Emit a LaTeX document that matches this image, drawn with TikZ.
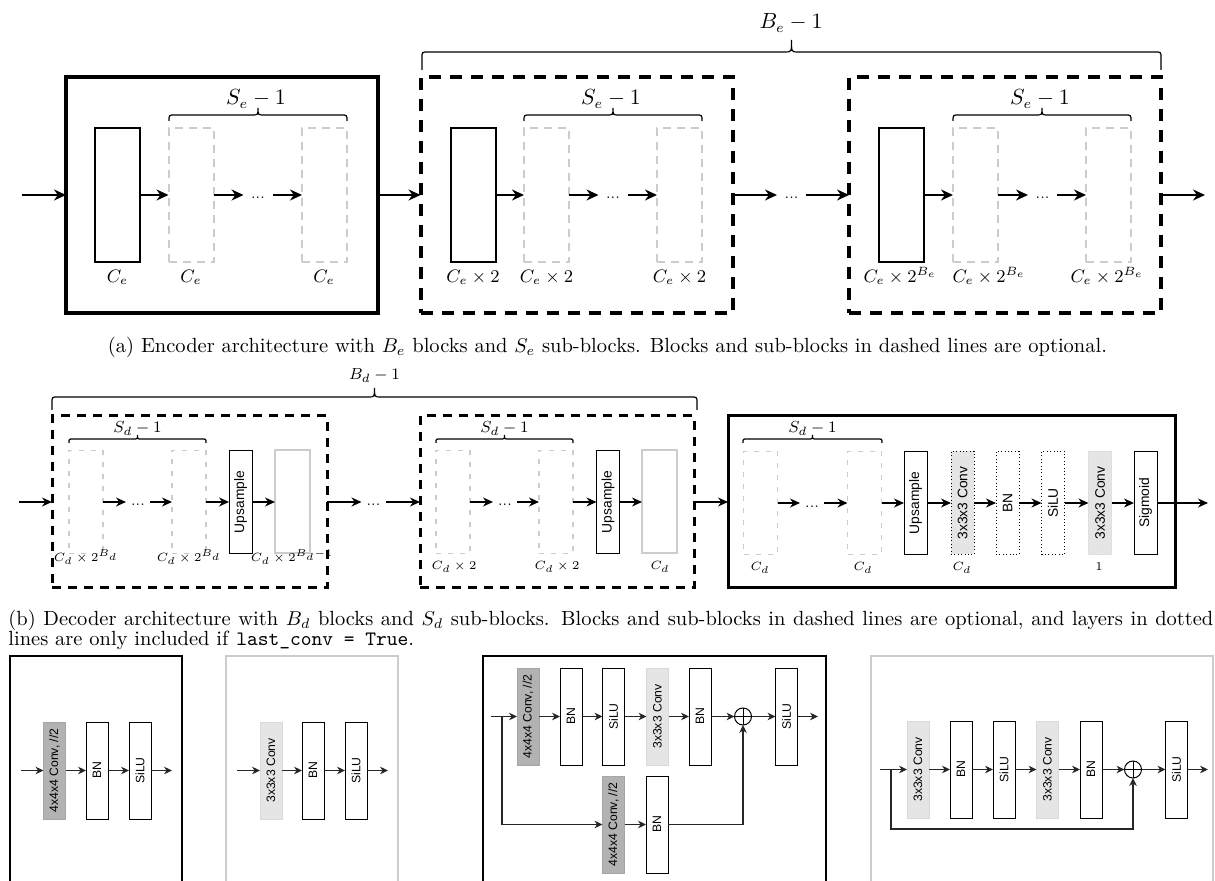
\documentclass[tikz,border=0pt]{standalone}
\usepackage{fontspec}
\newfontfamily\sfa{Liberation Sans}
\usetikzlibrary{arrows.meta}
\newcommand{\hbr}[7]{% style, x1,x2,yend,yflat,ytip,r
\draw[#1] (#2,#4) -- (#2,#5+#7) .. controls (#2,#5) .. (#2+#7,#5) -- ({(#2+#3)/2-#7},#5) .. controls ({(#2+#3)/2},#5) .. ({(#2+#3)/2},#6) .. controls ({(#2+#3)/2},#5) .. ({(#2+#3)/2+#7},#5) -- (#3-#7,#5) .. controls (#3,#5) .. (#3,#5+#7) -- (#3,#4);}
\newcommand{\dd}{\smash{\raisebox{-2pt}{...}}}
\tikzset{
 earr/.style={-{Stealth[length=6pt,width=5.5pt]},line width=0.8pt},
 darr/.style={-{Stealth[length=5pt,width=4.5pt]},line width=0.7pt},
 barr/.style={-{Stealth[length=4pt,width=3.8pt]},line width=0.55pt,draw=black!85},
 bx/.style={rectangle,inner sep=0pt,outer sep=0pt},
 eblk/.style={bx,draw,line width=2pt,minimum width=156pt,minimum height=118pt},
 eblkd/.style={eblk,dash pattern=on 6pt off 4.5pt},
 econv/.style={bx,draw,line width=1pt,minimum width=22.5pt,minimum height=67pt},
 eopt/.style={econv,draw=gray!40,dash pattern=on 4pt off 3pt},
 edots/.style={bx,minimum width=14.5pt,font=\scriptsize},
 elab/.style={anchor=base,inner sep=0pt,font=\fontsize{8.7}{10}\selectfont},
 eslab/.style={anchor=base,inner sep=0pt,font=\fontsize{10.5}{12}\selectfont},
 eblab/.style={anchor=base,inner sep=0pt,font=\fontsize{10.5}{12}\selectfont},
 ebrace/.style={line width=0.6pt},
 dblk/.style={bx,draw,line width=1.5pt,minimum height=86pt},
 dblkd/.style={dblk,dash pattern=on 4.5pt off 3.5pt},
 dopt/.style={bx,draw=gray!40,line width=0.6pt,dash pattern=on 2.5pt off 3.5pt,minimum width=17pt,minimum height=51.5pt},
 dlg/.style={bx,draw=gray!40,line width=1pt,minimum width=17.5pt,minimum height=51.5pt},
 dcomp/.style={bx,draw,line width=0.5pt,minimum width=11.5pt,minimum height=51.5pt,font=\sfa\fontsize{6.9}{8}\selectfont},
 ddot/.style={dcomp,dash pattern=on 0.5pt off 1.2pt},
 dlight/.style={fill=gray!20,draw=gray!25},
 ddots/.style={bx,minimum width=12pt,font=\scriptsize},
 dlab/.style={anchor=base,inner sep=0pt,font=\fontsize{6.3}{7}\selectfont},
 dslab/.style={anchor=base,inner sep=0pt,font=\fontsize{8.3}{10}\selectfont},
 dblab/.style={anchor=base,inner sep=0pt,font=\fontsize{8.3}{10}\selectfont},
 bblk/.style={bx,draw,line width=1.2pt,minimum height=125pt},
 bblkg/.style={bx,draw=gray!40,line width=1pt,minimum height=125pt},
 bcomp/.style={bx,draw,line width=0.5pt,minimum width=11pt,minimum height=48.5pt,font=\sfa\fontsize{6.1}{7}\selectfont},
 bdark/.style={fill=gray!60,draw=gray!70},
 blight/.style={fill=gray!20,draw=gray!30},
 opl/.style={circle,draw,line width=0.5pt,minimum size=8.5pt,inner sep=0pt,outer sep=0pt,
   path picture={\draw[line width=0.5pt] (path picture bounding box.north) -- (path picture bounding box.south) (path picture bounding box.west) -- (path picture bounding box.east);}},
 captxt/.style={inner sep=0pt,font=\fontsize{10.25}{12}\selectfont},
}
\begin{document}
\begin{tikzpicture}[x=0.5pt,y=-0.5pt]
\clip (0,0) rectangle (1215,881);
%================ ENCODER
\node[eblk]  (E1) at (222,195) {};
\node[eblkd] (E2) at (576.5,195) {};
\node[eblkd] (E3) at (1005,195) {};
% block 1
\node[econv] (E1a) at (117.5,195) {};
\node[eopt]  (E1b) at (191,195) {};
\node[edots] (E1d) at (258,195) {\dd};
\node[eopt]  (E1c) at (324.5,195) {};
% block 2
\node[econv] (E2a) at (473,195) {};
\node[eopt]  (E2b) at (546.5,195) {};
\node[edots] (E2d) at (613,195) {\dd};
\node[eopt]  (E2c) at (679.5,195) {};
% block 3
\node[econv] (E3a) at (901.5,195) {};
\node[eopt]  (E3b) at (975.5,195) {};
\node[edots] (E3d) at (1042.5,195) {\dd};
\node[eopt]  (E3c) at (1108.5,195) {};
\node[edots] (Ed) at (791.5,195) {\dd};
\coordinate (Ein) at (22,195);
\coordinate (Eout) at (1205,195);
\draw[earr] (Ein) -- (E1.west);
\draw[earr] (E1a.east) -- (E1b.west);
\draw[earr] (E1b.east) -- (E1d.west);
\draw[earr] (E1d.east) -- (E1c.west);
\draw[earr] (E1.east) -- (E2.west);
\draw[earr] (E2a.east) -- (E2b.west);
\draw[earr] (E2b.east) -- (E2d.west);
\draw[earr] (E2d.east) -- (E2c.west);
\draw[earr] (E2.east) -- (Ed.west);
\draw[earr] (Ed.east) -- (E3.west);
\draw[earr] (E3a.east) -- (E3b.west);
\draw[earr] (E3b.east) -- (E3d.west);
\draw[earr] (E3d.east) -- (E3c.west);
\draw[earr] (E3.east) -- (Eout);
% labels
\node[elab] (LE1a) at (117.5,283) {$C_e$};
\node[elab] (LE1b) at (191,283) {$C_e$};
\node[elab] (LE1c) at (324,283) {$C_e$};
\node[elab] (LE2a) at (473,283) {$C_e\times 2$};
\node[elab] (LE2b) at (546.5,283) {$C_e\times 2$};
\node[elab] (LE2c) at (679.5,283) {$C_e\times 2$};
\node[elab] (LE3a) at (900,283) {$C_e\times 2^{B_e}$};
\node[elab] (LE3b) at (989,283) {$C_e\times 2^{B_e}$};
\node[elab] (LE3c) at (1107,283) {$C_e\times 2^{B_e}$};
% braces
\hbr{ebrace}{169}{347}{121}{115}{108}{6}
\hbr{ebrace}{524}{702}{121}{115}{108}{6}
\hbr{ebrace}{953}{1131}{121}{115}{108}{6}
\node[eslab] (SE1) at (256,105) {$S_e-1$};
\node[eslab] (SE2) at (611,105) {$S_e-1$};
\node[eslab] (SE3) at (1040,105) {$S_e-1$};
\hbr{ebrace}{422}{1161}{70}{52}{40}{6}
\node[eblab] (BE) at (791,29) {$B_e-1$};
\node[captxt,anchor=base] (capA) at (607.5,353) {(a) Encoder architecture with $B_e$ blocks and $S_e$ sub-blocks. Blocks and sub-blocks in dashed lines are optional.};
%================ DECODER
\node[dblkd,minimum width=137.5pt] (D1) at (189.5,502) {};
\node[dblkd,minimum width=137pt]   (D2) at (557,502) {};
\node[dblk,minimum width=223.5pt]  (D3) at (951.5,502) {};
% block 1
\node[dopt]  (D1a) at (86,502) {};
\node[ddots] (D1d) at (138,502) {\dd};
\node[dopt]  (D1b) at (189,502) {};
\node[dcomp] (D1u) at (240.5,502) {\rotatebox{90}{Upsample}};
\node[dlg]   (D1g) at (292.5,502) {};
% block 2
\node[dopt]  (D2a) at (453,502) {};
\node[ddots] (D2d) at (505,502) {\dd};
\node[dopt]  (D2b) at (556,502) {};
\node[dcomp] (D2u) at (608,502) {\rotatebox{90}{Upsample}};
\node[dlg]   (D2g) at (659.5,502) {};
% block 3
\node[dopt]  (D3a) at (760.5,503) {};
\node[ddots] (D3d) at (812,503) {\dd};
\node[dopt]  (D3b) at (864.5,503) {};
\node[dcomp] (D3u) at (915.5,503) {\rotatebox{90}{Upsample}};
\node[ddot,fill=gray!20] (D3c1) at (962.5,503) {\rotatebox{90}{3x3x3 Conv}};
\node[ddot]  (D3bn) at (1007.5,503) {\rotatebox{90}{BN}};
\node[ddot]  (D3si) at (1053,503) {\rotatebox{90}{SiLU}};
\node[dcomp,dlight] (D3c2) at (1100,503) {\rotatebox{90}{3x3x3 Conv}};
\node[dcomp] (D3sg) at (1145.5,503) {\rotatebox{90}{Sigmoid}};
\node[ddots] (Dd) at (373.5,502) {\dd};
\coordinate (Din) at (19,502);
\coordinate (Dout) at (1208,503);
\draw[darr] (Din) -- (D1.west);
\draw[darr] (D1a.east) -- (D1d.west);
\draw[darr] (D1d.east) -- (D1b.west);
\draw[darr] (D1b.east) -- (D1u.west);
\draw[darr] (D1u.east) -- (D1g.west);
\draw[darr] (D1.east) -- (Dd.west);
\draw[darr] (Dd.east) -- (D2.west);
\draw[darr] (D2a.east) -- (D2d.west);
\draw[darr] (D2d.east) -- (D2b.west);
\draw[darr] (D2b.east) -- (D2u.west);
\draw[darr] (D2u.east) -- (D2g.west);
\draw[darr] (D2.east) -- (D3.west);
\draw[darr] (D3a.east) -- (D3d.west);
\draw[darr] (D3d.east) -- (D3b.west);
\draw[darr] (D3b.east) -- (D3u.west);
\draw[darr] (D3u.east) -- (D3c1.west);
\draw[darr] (D3c1.east) -- (D3bn.west);
\draw[darr] (D3bn.east) -- (D3si.west);
\draw[darr] (D3si.east) -- (D3c2.west);
\draw[darr] (D3c2.east) -- (D3sg.west);
\draw[darr] (D3sg.east) -- (Dout);
% labels
\node[dlab] (LD1a) at (86,562) {$C_d\times 2^{B_d}$};
\node[dlab] (LD1b) at (189,562) {$C_d\times 2^{B_d}$};
\node[dlab] (LD1g) at (292,562) {$C_d\times 2^{B_d-1}$};
\node[dlab] (LD2a) at (454,570) {$C_d\times 2$};
\node[dlab] (LD2b) at (557,570) {$C_d\times 2$};
\node[dlab] (LD2g) at (660,570) {$C_d$};
\node[dlab] (LD3a) at (760,571) {$C_d$};
\node[dlab] (LD3b) at (863,571) {$C_d$};
\node[dlab] (LD3c) at (962,571) {$C_d$};
\node[dlab] (LD3d) at (1099,571) {$1$};
% braces
\hbr{ebrace}{69}{206}{443}{439}{435}{4}
\hbr{ebrace}{436}{573}{443}{439}{435}{4}
\hbr{ebrace}{743}{882}{443}{439}{435}{4}
\node[dslab] (SD1) at (137.5,433) {$S_d-1$};
\node[dslab] (SD2) at (504.5,433) {$S_d-1$};
\node[dslab] (SD3) at (812.5,433) {$S_d-1$};
\hbr{ebrace}{52}{697}{410}{397}{388}{6}
\node[dblab] (BDl) at (374.5,380) {$B_d-1$};
\node[captxt,anchor=base west] (capB1) at (8,625) {\makebox[602.5pt][s]{(b) Decoder architecture with $B_d$ blocks and $S_d$ sub-blocks. Blocks and sub-blocks in dashed lines are optional, and layers in dotted}};
\node[captxt,anchor=base west] (capB2) at (8,645) {lines are only included if \texttt{last\_conv = True}.};
%================ BOTTOM BLOCKS
\node[bblk,minimum width=86pt]     (BA) at (96,781) {};
\node[bblkg,minimum width=86pt]    (BB) at (312,781) {};
\node[bblk,minimum width=171.5pt]  (BC) at (654.5,781) {};
\node[bblkg,minimum width=171pt]   (BF) at (1042,781) {};
% A
\node[bcomp,bdark] (A1) at (54.5,770.5) {\rotatebox{90}{4x4x4 Conv, //2}};
\node[bcomp] (A2) at (97,770.5) {\rotatebox{90}{BN}};
\node[bcomp] (A3) at (140,770.5) {\rotatebox{90}{SiLU}};
\coordinate (Ain) at (21,770.5);
\coordinate (Aout) at (172,770.5);
\draw[barr] (Ain) -- (A1.west);
\draw[barr] (A1.east) -- (A2.west);
\draw[barr] (A2.east) -- (A3.west);
\draw[barr] (A3.east) -- (Aout);
% B
\node[bcomp,blight] (B1) at (271,770.5) {\rotatebox{90}{3x3x3 Conv}};
\node[bcomp] (B2) at (313,770.5) {\rotatebox{90}{BN}};
\node[bcomp] (B3) at (356,770.5) {\rotatebox{90}{SiLU}};
\coordinate (Bin) at (237,770.5);
\coordinate (Bout) at (388,770.5);
\draw[barr] (Bin) -- (B1.west);
\draw[barr] (B1.east) -- (B2.west);
\draw[barr] (B2.east) -- (B3.west);
\draw[barr] (B3.east) -- (Bout);
% C
\node[bcomp,bdark] (C1) at (528,716.5) {\rotatebox{90}{4x4x4 Conv, //2}};
\node[bcomp] (C2) at (571,716.5) {\rotatebox{90}{BN}};
\node[bcomp] (C3) at (613.5,716.5) {\rotatebox{90}{SiLU}};
\node[bcomp,blight] (C4) at (657.5,716.5) {\rotatebox{90}{3x3x3 Conv}};
\node[bcomp] (C5) at (700,716.5) {\rotatebox{90}{BN}};
\node[opl] (Cp) at (743,716.5) {};
\node[bcomp] (C6) at (786.5,716.5) {\rotatebox{90}{SiLU}};
\node[bcomp,bdark] (C7) at (613.5,824.5) {\rotatebox{90}{4x4x4 Conv, //2}};
\node[bcomp] (C8) at (657,824.5) {\rotatebox{90}{BN}};
\coordinate (Cin) at (491,716.5);
\coordinate (Cbr) at (502,716.5);
\coordinate (Cout) at (818,716.5);
\draw[barr] (Cin) -- (C1.west);
\draw[barr] (C1.east) -- (C2.west);
\draw[barr] (C2.east) -- (C3.west);
\draw[barr] (C3.east) -- (C4.west);
\draw[barr] (C4.east) -- (C5.west);
\draw[barr] (C5.east) -- (Cp.west);
\draw[barr] (Cp.east) -- (C6.west);
\draw[barr] (C6.east) -- (Cout);
\draw[barr] (Cbr) |- (C7.west);
\draw[barr] (C7.east) -- (C8.west);
\draw[barr] (C8.east) -| (Cp.south);
% D
\node[bcomp,blight] (F1) at (918,769.5) {\rotatebox{90}{3x3x3 Conv}};
\node[bcomp] (F2) at (961,769.5) {\rotatebox{90}{BN}};
\node[bcomp] (F3) at (1004,769.5) {\rotatebox{90}{SiLU}};
\node[bcomp,blight] (F4) at (1047.5,769.5) {\rotatebox{90}{3x3x3 Conv}};
\node[bcomp] (F5) at (1091,769.5) {\rotatebox{90}{BN}};
\node[opl] (Fp) at (1133,769.5) {};
\node[bcomp] (F6) at (1176.5,769.5) {\rotatebox{90}{SiLU}};
\coordinate (Fin) at (880,769.5);
\coordinate (Fbr) at (891,769.5);
\coordinate (Flow) at (1133,829);
\coordinate (Fout) at (1208,769.5);
\draw[barr] (Fin) -- (F1.west);
\draw[barr] (F1.east) -- (F2.west);
\draw[barr] (F2.east) -- (F3.west);
\draw[barr] (F3.east) -- (F4.west);
\draw[barr] (F4.east) -- (F5.west);
\draw[barr] (F5.east) -- (Fp.west);
\draw[barr] (Fp.east) -- (F6.west);
\draw[barr] (F6.east) -- (Fout);
\draw[barr] (Fbr) |- (Flow) -- (Fp.south);
\end{tikzpicture}
\end{document}
